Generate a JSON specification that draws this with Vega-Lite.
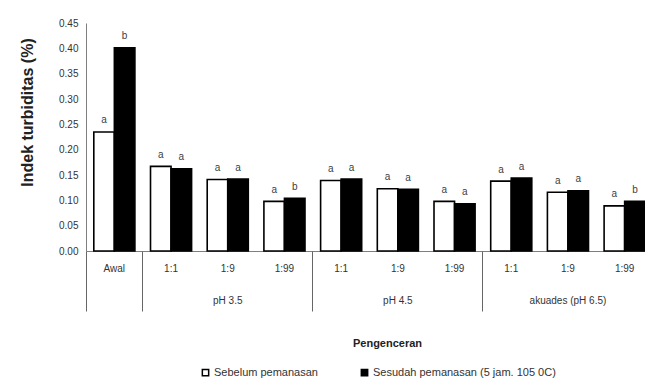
{
  "$schema": "https://vega.github.io/schema/vega-lite/v6.json",
  "width": 567,
  "height": 228,
  "autosize": "none",
  "padding": {"left": 86, "top": 23, "right": 0, "bottom": 140},
  "background": "white",
  "config": {
    "font": "Liberation Sans",
    "view": {"stroke": null},
    "scale": {"paddingInner": 0, "paddingOuter": 0.38},
    "axis": {"labelColor": "#333", "domainColor": "#7f7f7f", "tickColor": "#7f7f7f", "grid": false}
  },
  "data": {
    "values": [
      {"cat": "Awal", "series": "Sebelum pemanasan", "value": 0.235, "sig": "a"},
      {"cat": "Awal", "series": "Sesudah pemanasan (5 jam. 105 0C)", "value": 0.401, "sig": "b"},
      {"cat": "pH 3.5|1:1", "series": "Sebelum pemanasan", "value": 0.167, "sig": "a"},
      {"cat": "pH 3.5|1:1", "series": "Sesudah pemanasan (5 jam. 105 0C)", "value": 0.162, "sig": "a"},
      {"cat": "pH 3.5|1:9", "series": "Sebelum pemanasan", "value": 0.141, "sig": "a"},
      {"cat": "pH 3.5|1:9", "series": "Sesudah pemanasan (5 jam. 105 0C)", "value": 0.142, "sig": "a"},
      {"cat": "pH 3.5|1:99", "series": "Sebelum pemanasan", "value": 0.098, "sig": "a"},
      {"cat": "pH 3.5|1:99", "series": "Sesudah pemanasan (5 jam. 105 0C)", "value": 0.104, "sig": "b"},
      {"cat": "pH 4.5|1:1", "series": "Sebelum pemanasan", "value": 0.139, "sig": "a"},
      {"cat": "pH 4.5|1:1", "series": "Sesudah pemanasan (5 jam. 105 0C)", "value": 0.142, "sig": "a"},
      {"cat": "pH 4.5|1:9", "series": "Sebelum pemanasan", "value": 0.123, "sig": "a"},
      {"cat": "pH 4.5|1:9", "series": "Sesudah pemanasan (5 jam. 105 0C)", "value": 0.122, "sig": "a"},
      {"cat": "pH 4.5|1:99", "series": "Sebelum pemanasan", "value": 0.098, "sig": "a"},
      {"cat": "pH 4.5|1:99", "series": "Sesudah pemanasan (5 jam. 105 0C)", "value": 0.093, "sig": "a"},
      {"cat": "akuades (pH 6.5)|1:1", "series": "Sebelum pemanasan", "value": 0.138, "sig": "a"},
      {"cat": "akuades (pH 6.5)|1:1", "series": "Sesudah pemanasan (5 jam. 105 0C)", "value": 0.144, "sig": "a"},
      {"cat": "akuades (pH 6.5)|1:9", "series": "Sebelum pemanasan", "value": 0.116, "sig": "a"},
      {"cat": "akuades (pH 6.5)|1:9", "series": "Sesudah pemanasan (5 jam. 105 0C)", "value": 0.119, "sig": "a"},
      {"cat": "akuades (pH 6.5)|1:99", "series": "Sebelum pemanasan", "value": 0.089, "sig": "a"},
      {"cat": "akuades (pH 6.5)|1:99", "series": "Sesudah pemanasan (5 jam. 105 0C)", "value": 0.098, "sig": "b"}
    ]
  },
  "encoding": {
    "y": {
      "field": "value", "type": "quantitative",
      "scale": {"domain": [0, 0.45], "nice": false, "zero": true},
      "axis": {
        "title": "Indek  turbiditas (%)",
        "titleFontSize": 16, "titleFontWeight": "bold", "titleColor": "#222",
        "titleX": -59, "titleY": 89, "titleAngle": -90, "titleAlign": "center", "titleBaseline": "middle",
        "values": [0, 0.05, 0.1, 0.15, 0.2, 0.25, 0.3, 0.35, 0.4, 0.45],
        "format": ".2f", "labelFontSize": 10, "ticks": false, "labelPadding": 8
      }
    }
  },
  "layer": [
    {
      "mark": {"type": "bar", "stroke": "black", "strokeWidth": 1.6},
      "encoding": {
        "x": {
          "field": "cat", "type": "nominal", "sort": null,
          "scale": {"paddingInner": 0, "paddingOuter": 0},
          "axis": {
            "orient": "bottom", "title": null, "ticks": false, "domain": true,
            "labelAngle": 0, "labelFontSize": 10, "labelPadding": 12,
            "labelExpr": "split(datum.value, '|')[length(split(datum.value, '|')) - 1]"
          }
        },
        "xOffset": {"field": "series", "type": "nominal", "scale": {"paddingInner": 0, "paddingOuter": 0.38}},
        "fill": {
          "field": "series", "type": "nominal",
          "scale": {"domain": ["Sebelum pemanasan", "Sesudah pemanasan (5 jam. 105 0C)"], "range": ["white", "black"]},
          "legend": {
            "title": null, "orient": "none", "direction": "horizontal",
            "legendX": 114, "legendY": 344, "padding": 0,
            "symbolType": "square", "symbolSize": 40, "symbolStrokeColor": "black", "symbolStrokeWidth": 1.5,
            "labelFontSize": 11, "labelColor": "#333", "labelOffset": 3, "labelLimit": 400, "columnPadding": 40
          }
        }
      }
    },
    {
      "mark": {"type": "text", "baseline": "alphabetic", "dy": -8.5, "fontSize": 10, "color": "#404040"},
      "encoding": {
        "x": {
          "field": "cat", "type": "nominal", "sort": null,
          "axis": {
            "orient": "bottom", "domain": false, "ticks": true, "tickSize": 60, "tickWidth": 1,
            "tickColor": "#666",
            "tickOpacity": {"condition": {"test": "indexof(['Awal', 'pH 3.5|1:1', 'pH 4.5|1:1', 'akuades (pH 6.5)|1:1'], datum.value) >= 0", "value": 1}, "value": 0},
            "bandPosition": 0, "labelAngle": 0,
            "labelFontSize": 10, "labelPadding": -16, "labelOverlap": false, "labelBound": false,
            "labelExpr": "split(datum.value, '|')[1] == '1:9' ? split(datum.value, '|')[0] : ''",
            "title": "Pengenceran", "titleFontSize": 11, "titleFontWeight": "bold", "titleColor": "#222",
            "titleX": 301, "titleY": 92, "titleBaseline": "middle", "titleAlign": "center"
          }
        },
        "xOffset": {"field": "series", "type": "nominal"},
        "text": {"field": "sig", "type": "nominal"}
      }
    }
  ],
  "resolve": {"axis": {"x": "independent"}}
}
